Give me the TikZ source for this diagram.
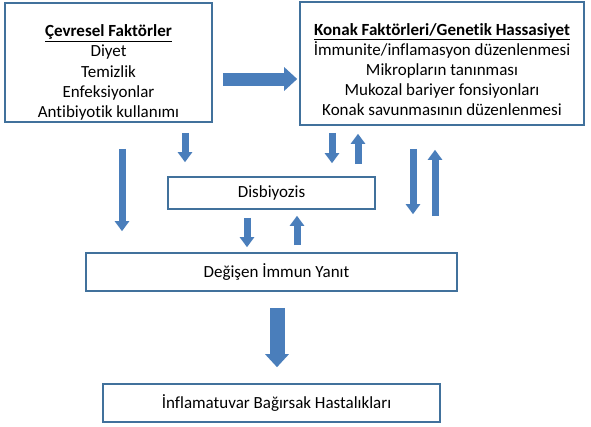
\documentclass[tikz,border=0pt]{standalone}
\usepackage{fontspec}
\setmainfont{Carlito}[Ligatures=NoCommon]
\usetikzlibrary{positioning, arrows.meta, calc}

\definecolor{boxblue}{HTML}{41719C}
\definecolor{arrblue}{HTML}{4A7EBB}

\begin{document}
\begin{tikzpicture}[
    x=1pt, y=-1pt,
    box/.style={rectangle, draw=boxblue, line width=1.6pt, fill=white, inner sep=0pt},
    txt/.style={align=center, font=\fontsize{17}{20.2}\selectfont},
    barrow/.style={draw=arrblue, line width=7pt, -{Triangle[width=14pt, length=10pt]}},
    bigarrow/.style={draw=arrblue, line width=13pt, -{Triangle[width=23pt, length=13pt]}}
]
\useasboundingbox (0,0) rectangle (591,426);

% Boxes
\node[box, minimum width=207pt, minimum height=119pt] (cev) at (108.5, 62.5) {};
\node[box, minimum width=284pt, minimum height=123pt] (konak) at (442, 63.5) {};
\node[box, minimum width=207pt, minimum height=32pt] (dis) at (271.5, 193) {};
\node[box, minimum width=371pt, minimum height=38pt] (deg) at (271.5, 272) {};
\node[box, minimum width=337pt, minimum height=38pt] (ibh) at (271.5, 403) {};

% Texts
\node[txt] (cevtxt) at ([yshift=-10pt]cev.center) {\textbf{\underline{Çevresel Faktörler}}\\Diyet\\Temizlik\\Enfeksiyonlar\\Antibiyotik kullanımı};
\node[txt] (konaktxt) at ([yshift=-6pt]konak.center) {\textbf{\underline{Konak Faktörleri/Genetik Hassasiyet}}\\İmmunite/inflamasyon düzenlenmesi\\Mikropların tanınması\\Mukozal bariyer fonsiyonları\\Konak savunmasının düzenlenmesi};
\node[txt] (distxt) at (dis.center) {Disbiyozis};
\node[txt] (degtxt) at ([xshift=5pt]deg.center) {Değişen İmmun Yanıt};
\node[txt] (ibhtxt) at ([xshift=5pt]ibh.center) {İnflamatuvar Bağırsak Hastalıkları};

% Arrows
\draw[bigarrow, shorten <=10pt, shorten >=2pt] (cev.east |- 0,79) -- (konak.west |- 0,79);
\draw[barrow, shorten <=26pt, shorten >=21pt] (cev.south -| 122,0) -- (deg.north -| 122,0);
\draw[barrow, shorten <=10pt, shorten >=14pt] (cev.south -| 185,0) -- (dis.north -| 185,0);
\draw[barrow, shorten <=7pt, shorten >=13pt] (konak.south -| 332,0) -- (dis.north -| 332,0);
\draw[barrow, shorten <=12pt, shorten >=8pt] (dis.north -| 358,0) -- (konak.south -| 358,0);
\draw[barrow, shorten <=23pt, shorten >=38pt] (konak.south -| 413,0) -- (deg.north -| 413,0);
\draw[barrow, shorten <=36pt, shorten >=24pt] (deg.north -| 435,0) -- (konak.south -| 435,0);
\draw[barrow, shorten <=8pt, shorten >=5pt] (dis.south -| 247,0) -- (deg.north -| 247,0);
\draw[barrow, shorten <=7pt, shorten >=6pt] (deg.north -| 297,0) -- (dis.south -| 297,0);
\draw[bigarrow, line width=15pt, shorten <=16pt, shorten >=16pt] (deg.south -| 277,0) -- (ibh.north -| 277,0);

\end{tikzpicture}
\end{document}
